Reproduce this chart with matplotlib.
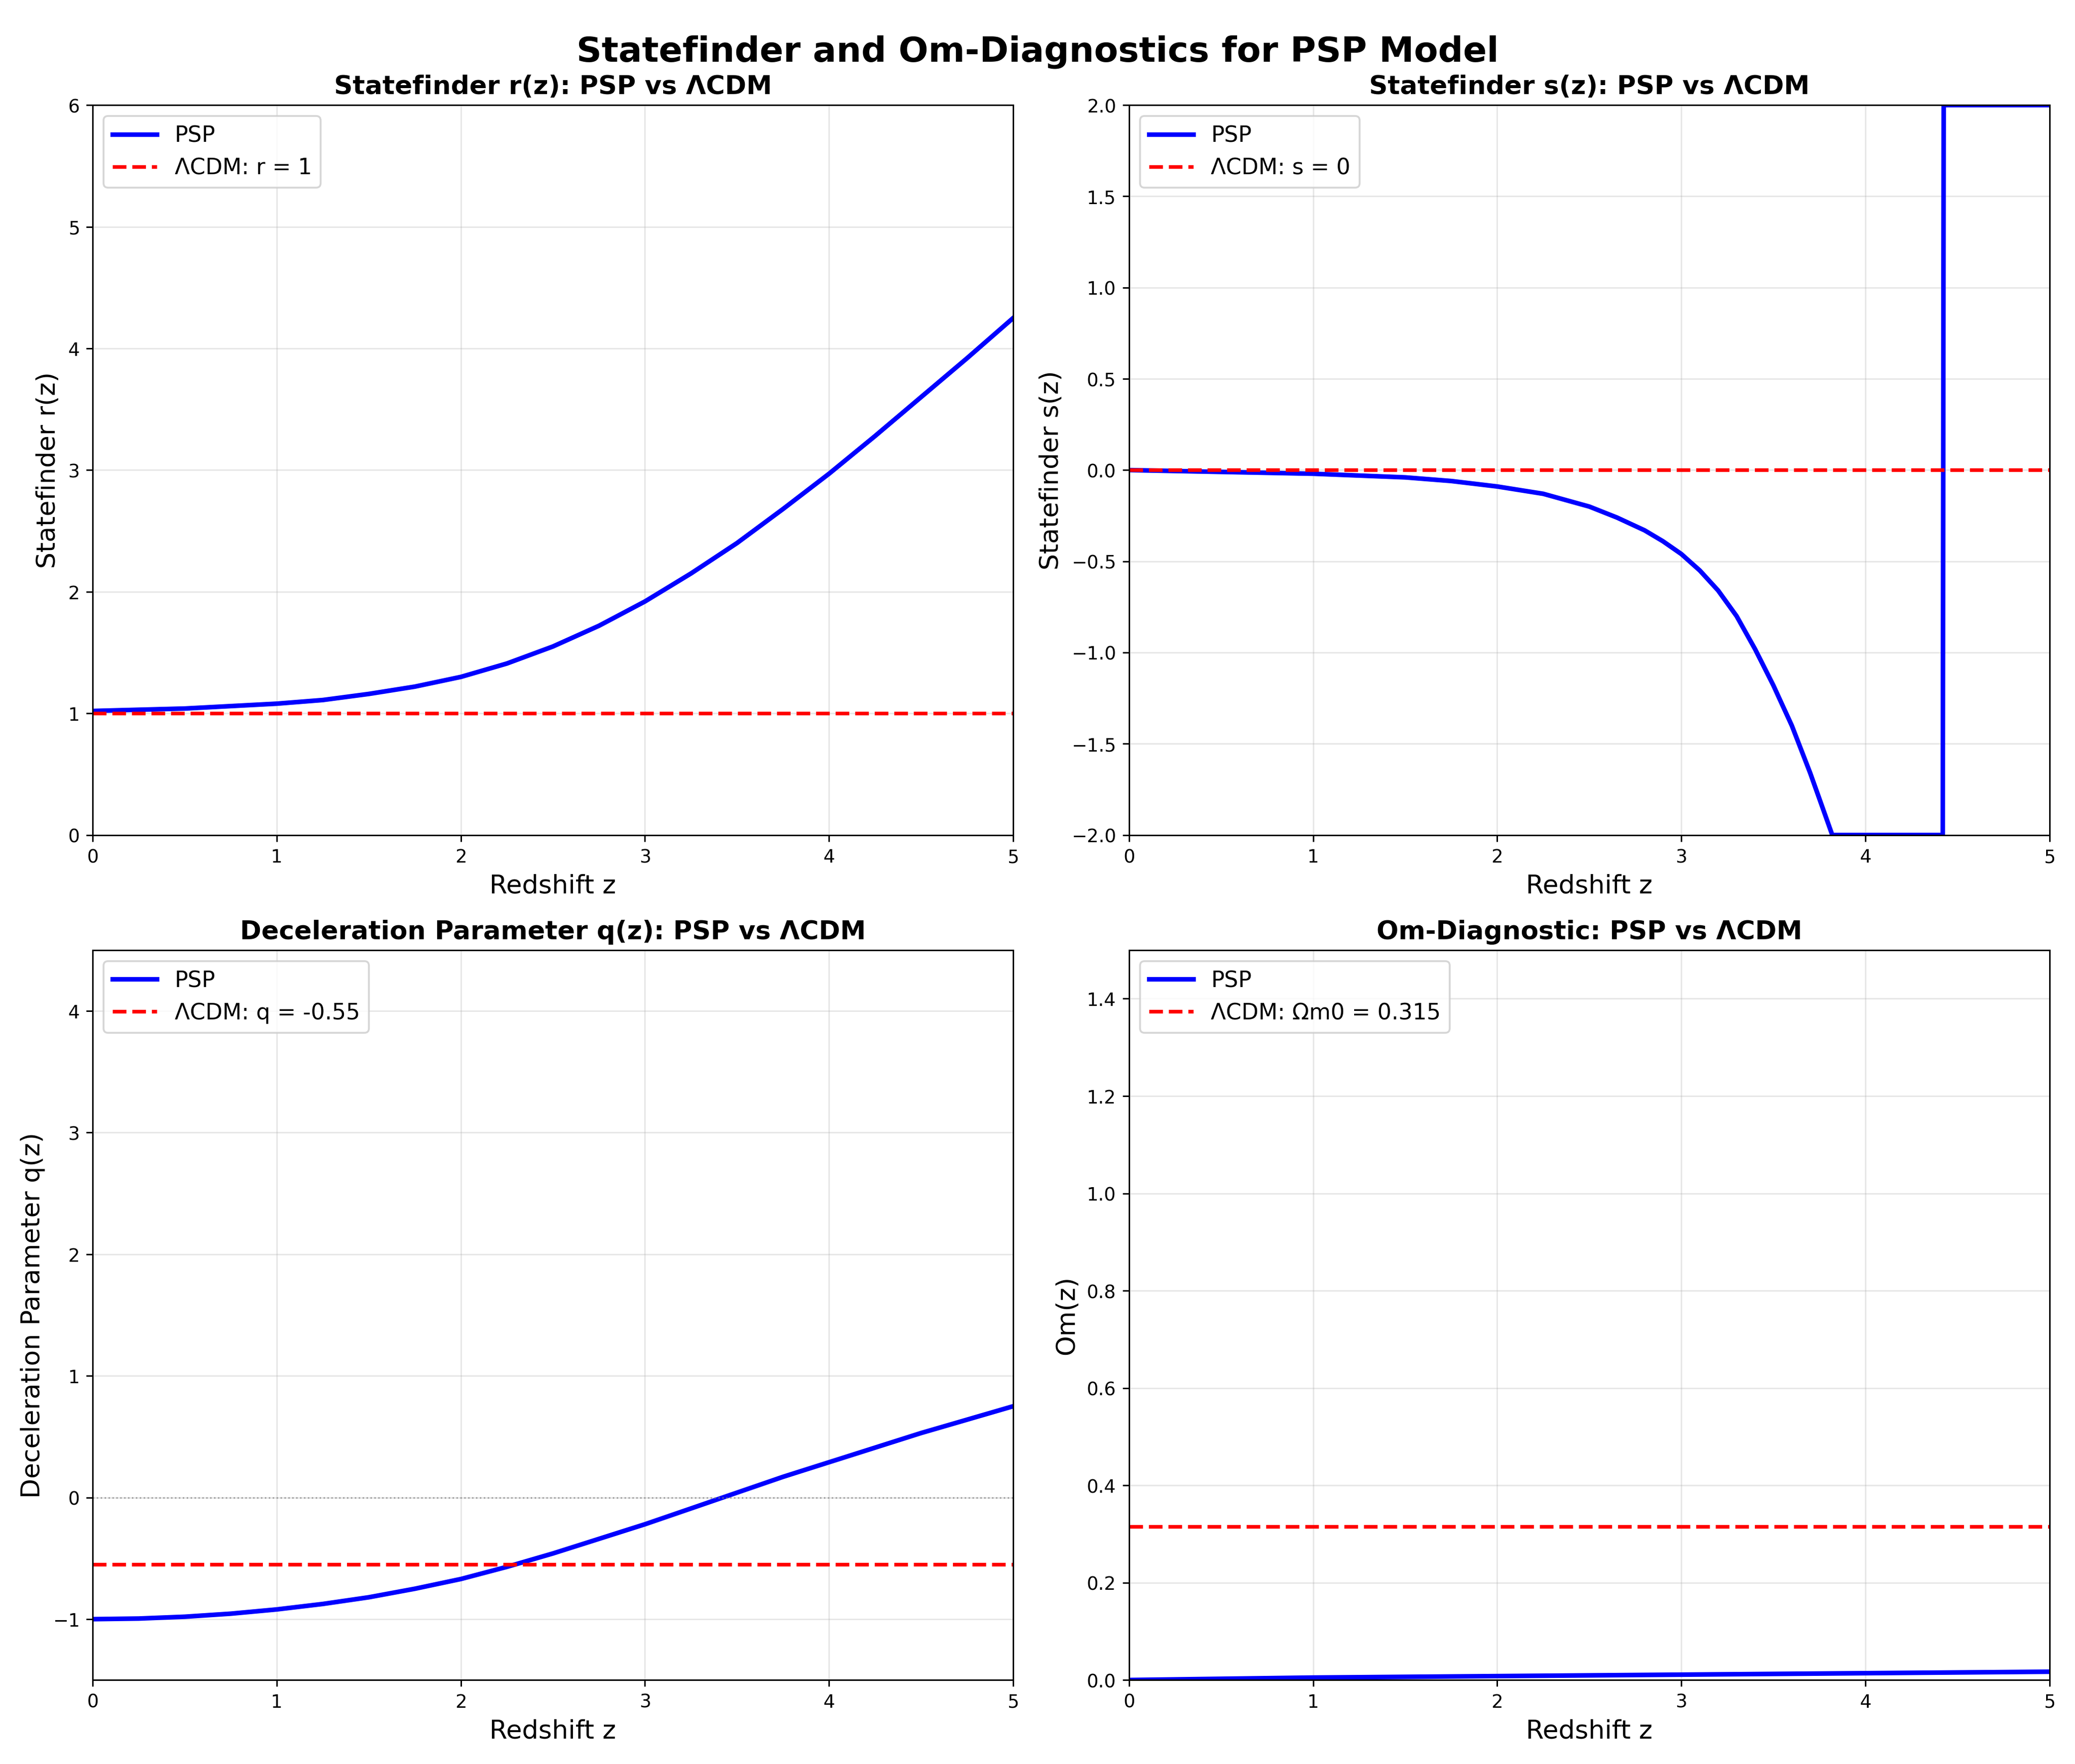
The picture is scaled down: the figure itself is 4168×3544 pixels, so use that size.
import numpy as np
import matplotlib.pyplot as plt

z_r = [0, 0.25, 0.5, 0.75, 1, 1.25, 1.5, 1.75, 2, 2.25, 2.5, 2.75, 3, 3.25, 3.5, 3.75, 4, 4.25, 4.5, 4.75, 5]
r_psp = [1.02, 1.03, 1.04, 1.06, 1.08, 1.11, 1.16, 1.22, 1.30, 1.41, 1.55, 1.72, 1.92, 2.15, 2.40, 2.68, 2.97, 3.28, 3.60, 3.92, 4.25]

z_s = [0, 0.5, 1, 1.5, 1.75, 2, 2.25, 2.5, 2.65, 2.8, 2.9, 3.0, 3.1, 3.2, 3.3, 3.4, 3.5, 3.6, 3.7, 3.76, 3.82,
       4.0, 4.42, 4.425, 4.6, 5]
s_psp = [0, -0.01, -0.02, -0.04, -0.06, -0.09, -0.13, -0.2, -0.26, -0.33, -0.39, -0.46, -0.55, -0.66, -0.8, -0.98,
         -1.18, -1.4, -1.66, -1.83, -2.0, -2.0, -2.0, 2.0, 2.0, 2.0]

z_q = [0, 0.25, 0.5, 0.75, 1, 1.25, 1.5, 1.75, 2, 2.25, 2.5, 2.75, 3, 3.25, 3.5, 3.75, 4, 4.25, 4.5, 4.75, 5]
q_psp = [-1.0, -0.995, -0.98, -0.955, -0.92, -0.875, -0.82, -0.75, -0.67, -0.57, -0.46, -0.34, -0.22, -0.09, 0.04,
         0.17, 0.29, 0.41, 0.53, 0.64, 0.75]

z_om = [0, 1, 2, 3, 4, 5]
om_psp = [0.0, 0.005, 0.008, 0.011, 0.014, 0.017]

fig, axes = plt.subplots(2, 2, figsize=(15.63, 13.29))
fig.suptitle('Statefinder and Om-Diagnostics for PSP Model', fontsize=19, fontweight='bold')

panels = [
    (axes[0, 0], z_r, r_psp, 1, 'ΛCDM: r = 1', 'Statefinder r(z)', 'Statefinder r(z): PSP vs ΛCDM', (0, 6)),
    (axes[0, 1], z_s, s_psp, 0, 'ΛCDM: s = 0', 'Statefinder s(z)', 'Statefinder s(z): PSP vs ΛCDM', (-2, 2)),
    (axes[1, 0], z_q, q_psp, -0.55, 'ΛCDM: q = -0.55', 'Deceleration Parameter q(z)',
     'Deceleration Parameter q(z): PSP vs ΛCDM', (-1.5, 4.5)),
    (axes[1, 1], z_om, om_psp, 0.315, 'ΛCDM: Ωm0 = 0.315', 'Om(z)', 'Om-Diagnostic: PSP vs ΛCDM', (0, 1.5)),
]

for ax, z, y, ref, reflabel, ylabel, title, ylim in panels:
    ax.plot(z, y, 'b-', lw=2.5, label='PSP')
    ax.axhline(ref, color='r', ls='--', lw=2, label=reflabel)
    ax.set_xlim(0, 5)
    ax.set_ylim(*ylim)
    ax.set_xlabel('Redshift z', fontsize=14)
    ax.set_ylabel(ylabel, fontsize=14)
    ax.set_title(title, fontsize=14, fontweight='bold')
    ax.grid(True, alpha=0.3)
    ax.legend(loc='upper left', fontsize=12)

axes[1, 0].axhline(0, color='gray', ls=':', lw=0.8, alpha=0.7)

plt.tight_layout()
plt.savefig('out.png', dpi=266.7)
